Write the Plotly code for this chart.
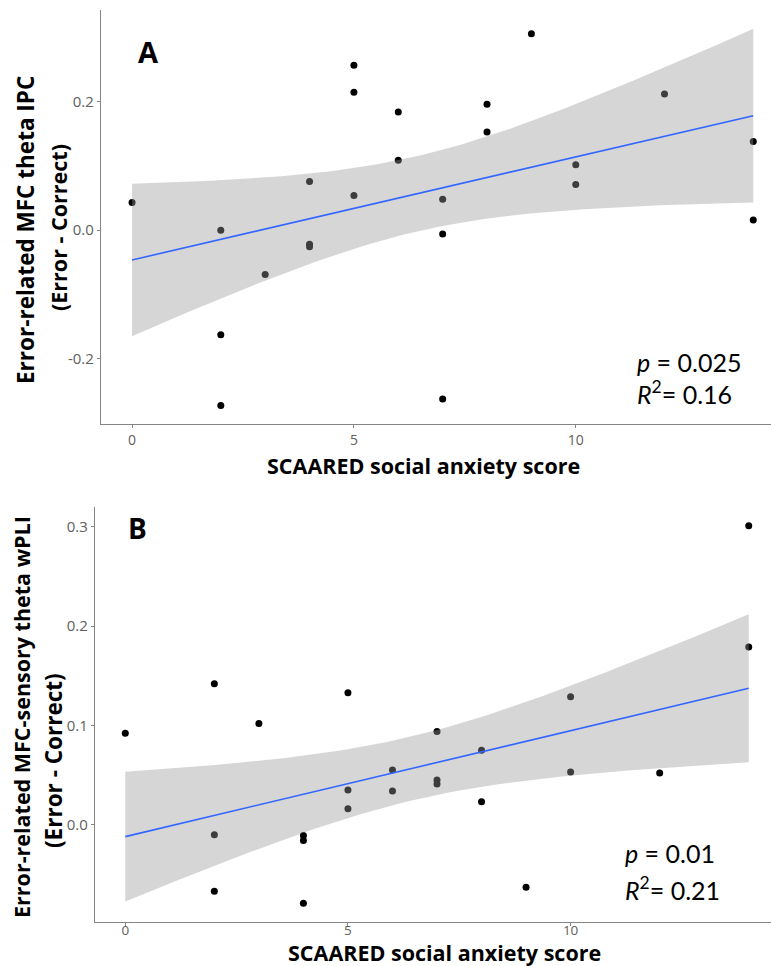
import numpy as np
import plotly.graph_objects as go

# ---------------- data ----------------
# Panel A: SCAARED social anxiety score vs error-related MFC theta IPC
scaared_a = [0, 2, 2, 2, 3, 4, 4, 4, 5, 5, 5, 6, 6, 7, 7, 7, 8, 8, 9, 10, 10, 12, 14, 14]
ipc_a = [0.043, 0.000, -0.163, -0.273, -0.069, 0.076, -0.022, -0.026,
         0.257, 0.215, 0.054, 0.184, 0.109, 0.048, -0.006, -0.263,
         0.196, 0.153, 0.306, 0.102, 0.071, 0.212, 0.138, 0.016]

# Panel B: SCAARED social anxiety score vs error-related MFC-sensory theta wPLI
scaared_b = [0, 2, 2, 2, 3, 4, 4, 4, 5, 5, 5, 6, 6, 7, 7, 7, 8, 8, 9, 10, 10, 12, 14, 14]
wpli_b = [0.092, 0.142, -0.010, -0.067, 0.102, -0.011, -0.016, -0.079,
          0.133, 0.035, 0.016, 0.055, 0.034, 0.094, 0.045, 0.041,
          0.075, 0.023, -0.063, 0.129, 0.053, 0.052, 0.301, 0.179]

x_ticks = [0, 5, 10]
x_ticktext = ["0", "5", "10"]
ya_ticks = [-0.2, 0.0, 0.2]
ya_ticktext = ["-0.2", "0.0", "0.2"]
yb_ticks = [-0.1, 0.0, 0.1, 0.2, 0.3]
yb_ticktext = ["-0.1", "0.0", "0.1", "0.2", "0.3"]

stats_a = ["<i>p</i> = 0.025", "<i>R</i><sup>2</sup>= 0.16"]
stats_b = ["<i>p</i> = 0.01", "<i>R</i><sup>2</sup>= 0.21"]

T975 = 2.0739  # t quantile, df = 22


def lm_fit(x, y, n_grid=80):
    x = np.asarray(x, float)
    y = np.asarray(y, float)
    n = len(x)
    xm = x.mean()
    sxx = ((x - xm) ** 2).sum()
    b1 = ((x - xm) * (y - y.mean())).sum() / sxx
    b0 = y.mean() - b1 * xm
    resid = y - (b0 + b1 * x)
    s = np.sqrt((resid ** 2).sum() / (n - 2))
    g = np.linspace(x.min(), x.max(), n_grid)
    fit = b0 + b1 * g
    se = s * np.sqrt(1.0 / n + (g - xm) ** 2 / sxx)
    return g, fit, fit - T975 * se, fit + T975 * se


W, H = 771, 966
fig = go.Figure()

BLUE = "#3366FF"
BAND = "rgba(153,153,153,0.4)"
AXC = "#858585"
TICKC = "#606060"


def add_panel(x, y, xa, ya):
    fig.add_trace(go.Scatter(x=x, y=y, mode="markers", xaxis=xa, yaxis=ya,
                             marker=dict(color="black", size=7, line=dict(width=0)),
                             showlegend=False, hoverinfo="skip"))
    g, fit, lo, hi = lm_fit(x, y)
    fig.add_trace(go.Scatter(x=np.concatenate([g, g[::-1]]),
                             y=np.concatenate([hi, lo[::-1]]),
                             fill="toself", fillcolor=BAND, line=dict(width=0),
                             mode="lines", xaxis=xa, yaxis=ya,
                             showlegend=False, hoverinfo="skip"))
    fig.add_trace(go.Scatter(x=g, y=fit, mode="lines", xaxis=xa, yaxis=ya,
                             line=dict(color=BLUE, width=1.6),
                             showlegend=False, hoverinfo="skip"))


add_panel(scaared_a, ipc_a, "x", "y")
add_panel(scaared_b, wpli_b, "x2", "y2")


def px(xp):
    return xp / W


def py(yp):
    return 1 - yp / H


axis_common = dict(showgrid=False, zeroline=False, showline=True, linecolor=AXC,
                   linewidth=1.2, ticks="outside", ticklen=3, tickcolor=AXC,
                   fixedrange=True)
xtickfont = dict(family="Open Sans", size=14, color=TICKC)
x2tickfont = dict(family="Open Sans", size=13.5, color=TICKC)
ytickfont = dict(family="Open Sans", size=15, color=TICKC)

fig.update_layout(
    width=W, height=H,
    margin=dict(l=0, r=0, t=0, b=0),
    paper_bgcolor="white", plot_bgcolor="white",
    xaxis=dict(domain=[px(101), 1], range=[-0.7, 14.4], anchor="y",
               tickvals=x_ticks, ticktext=x_ticktext, tickfont=xtickfont,
               **axis_common),
    yaxis=dict(domain=[py(424), py(10)], range=[-0.302, 0.343], anchor="x",
               tickvals=ya_ticks, ticktext=ya_ticktext, tickfont=ytickfont,
               **axis_common),
    xaxis2=dict(domain=[px(95), 1], range=[-0.68, 14.5], anchor="y2",
                tickvals=x_ticks, ticktext=x_ticktext, tickfont=x2tickfont,
                ticklabelstandoff=-7, **axis_common),
    yaxis2=dict(domain=[py(922), py(507)], range=[-0.098, 0.320], anchor="x2",
                tickvals=yb_ticks, ticktext=yb_ticktext, tickfont=ytickfont,
                **axis_common),
)

ann = []


def add_text(text, x, y, font, angle=0, xanchor="center"):
    ann.append(dict(text=text, x=px(x), y=py(y), xref="paper", yref="paper",
                    showarrow=False, font=font, textangle=angle,
                    xanchor=xanchor, yanchor="middle"))


def tfont(size):
    return dict(family="Open Sans", size=size, color="black")


# axis titles
add_text("<b>SCAARED social anxiety score</b>", 423, 465, tfont(21.5))
add_text("<b>SCAARED social anxiety score</b>", 445, 952, tfont(21.5))
add_text("<b>Error-related MFC theta IPC</b>", 25, 230, tfont(22.5), angle=-90)
add_text("<b>(Error - Correct)</b>", 58, 228, tfont(21.5), angle=-90)
add_text("<b>Error-related MFC-sensory theta wPLI</b>", 21, 717, tfont(21.5), angle=-90)
add_text("<b>(Error - Correct)</b>", 53, 761, tfont(22.5), angle=-90)

# panel labels
add_text("<b>A</b>", 148, 52, tfont(29))
add_text("<b>B</b>", 137, 528, tfont(28))

# statistics
stat_font = dict(family="Lato", size=25, color="black")
add_text(stats_a[0], 635, 362, stat_font, xanchor="left")
add_text(stats_a[1], 635, 393, stat_font, xanchor="left")
add_text(stats_b[0], 623, 853, stat_font, xanchor="left")
add_text(stats_b[1], 623, 888, stat_font, xanchor="left")

fig.update_layout(annotations=ann)

fig.write_html("out.html", config={"displayModeBar": False},
               post_script="document.body.style.margin='0px';document.body.style.padding='0px';")
